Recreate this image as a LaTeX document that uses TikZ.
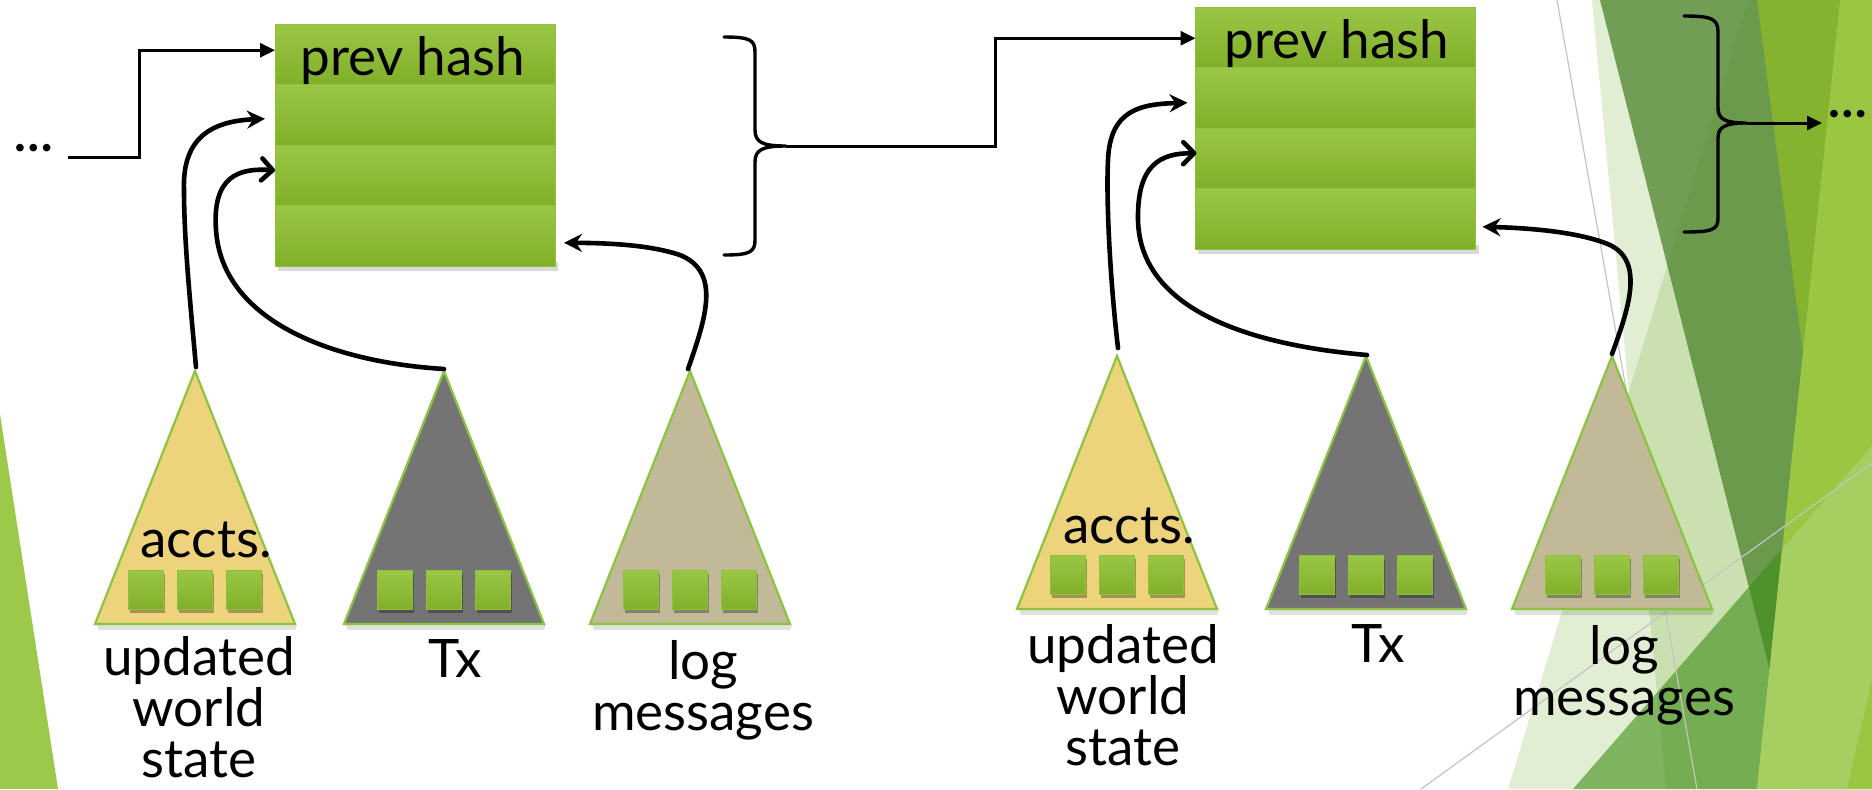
\documentclass[tikz,border=0pt]{standalone}
\usepackage{fontspec}
\setmainfont{Lato}
\usetikzlibrary{arrows.meta,calc,shadows}
\definecolor{rowtop}{HTML}{9AC646}
\definecolor{rowbot}{HTML}{82AF29}
\definecolor{rowedge}{HTML}{8EC23B}
\definecolor{treeedge}{HTML}{8BC53F}
\definecolor{acctfill}{HTML}{EDD47C}
\definecolor{txfill}{HTML}{747474}
\definecolor{logfill}{HTML}{C1B997}
\definecolor{facetpale}{RGB}{120,175,50}
\definecolor{facetdark}{RGB}{80,133,48}
\definecolor{facetbright}{HTML}{86B32F}
\definecolor{facetlime}{HTML}{9AC641}
\definecolor{facetmid}{RGB}{60,140,20}
\definecolor{facetlight}{HTML}{A7CE60}
\definecolor{sliver}{HTML}{9CC94A}
\definecolor{thinline}{HTML}{C4C4C4}
\newcommand{\bigtxt}{\fontsize{26.5}{25.5}\selectfont}
\newcommand{\mytree}[4]{%
  \fill[black,opacity=0.12] (#2-98,#3+1) -- (#2+102,#3+1) -- (#2+100,#3+6) -- (#2-96,#3+6) -- cycle;
  \filldraw[draw=treeedge, line width=1.1pt, fill=#4] (#2-100,#3) -- (#2,#3-253) -- (#2+100,#3) -- cycle;
  \coordinate (#1) at (#2,#3-253);
  \foreach \dx [count=\sqi] in {-49,0,49} {\node[leaf] (#1sq\sqi) at (#2+\dx,#3-34) {};}
}
\begin{document}
\begin{tikzpicture}[x=0.5pt,y=-0.5pt,
  row/.style={minimum width=140pt, minimum height=30.25pt, inner sep=0pt, outer sep=0pt, top color=rowtop, bottom color=rowbot, draw=rowedge, line width=0.5pt},
  leaf/.style={minimum width=17.5pt, minimum height=19.5pt, inner sep=0pt, outer sep=0pt, top color=rowtop, bottom color=rowbot, draw=rowedge, line width=0.6pt, drop shadow={shadow xshift=0.8pt, shadow yshift=-1.5pt, opacity=0.3, fill=black}},
  txt/.style={font=\bigtxt, inner sep=0pt, outer sep=0pt},
  lbl/.style={txt, align=center, anchor=north},
  dotsnode/.style={font=\fontsize{25}{25}\selectfont\bfseries, inner sep=0pt, anchor=base west},
  flow/.style={line width=2.3pt, line cap=round},
  stealthhead/.style={-{Stealth[length=9pt,width=9pt,inset=3pt]}},
  openhead/.style={-{Straight Barb[length=5.5pt,width=11pt,round]}},
  elbow/.style={line width=1.5pt, -{Triangle[length=7.5pt,width=7pt]}},
  bracestroke/.style={line width=1.7pt, line join=round, line cap=round}
]
\useasboundingbox (0,0) rectangle (1872,789);
\fill[white] (0,0) rectangle (1872,789);

% background facets
\fill[sliver] (0,414) -- (58,789) -- (0,789) -- cycle;
\fill[facetpale, opacity=0.21] (1592,0) -- (1872,0) -- (1872,789) -- (1666,789) -- cycle;
\fill[facetpale, opacity=0.21] (1748,0) -- (1872,0) -- (1872,789) -- (1508,789) -- cycle;
\fill[facetdark, opacity=0.77] (1600,0) -- (1872,0) -- (1872,789) -- (1800,789) -- cycle;
\fill[facetbright] (1757,0) -- (1840,0) -- (1803,352) -- cycle;
\fill[facetlime] (1840,0) -- (1872,0) -- (1872,789) -- (1757,789) -- cycle;
\fill[facetmid, opacity=0.6] (1573,789) -- (1782,549) -- (1757,789) -- cycle;
\fill[facetlight] (1782,549) -- (1872,446) -- (1872,679) -- (1847,789) -- (1757,789) -- cycle;
\draw[thinline, line width=0.6pt] (1557,0) -- (1697,789);
\draw[thinline, line width=0.6pt] (1421,789) -- (1872,463);

% block shadows
\fill[black, opacity=0.15] (278,262) rectangle (558,271);
\fill[black, opacity=0.15] (1198,245) rectangle (1479,254);

% block 1
\node[row] (b1r1) at (415,54.25) {};
\node[row] (b1r2) at (415,114.75) {};
\node[row] (b1r3) at (415,175.25) {};
\node[row] (b1r4) at (415,235.75) {};
\node[txt, anchor=base] (ph1) at (413,75) {prev hash};

% block 2
\node[row] (b2r1) at (1335.5,37.25) {};
\node[row] (b2r2) at (1335.5,97.75) {};
\node[row] (b2r3) at (1335.5,158.25) {};
\node[row] (b2r4) at (1335.5,218.75) {};
\node[txt, anchor=base] (ph2) at (1337,58) {prev hash};

% trees
\mytree{apYL}{195}{624}{acctfill}
\mytree{apTL}{444}{624}{txfill}
\mytree{apLL}{690}{624}{logfill}
\mytree{apYR}{1117}{609}{acctfill}
\mytree{apTR}{1366}{609}{txfill}
\mytree{apLR}{1612}{609}{logfill}

\node[txt, anchor=base] (acL) at (206,557) {accts.};
\node[txt, anchor=base] (acR) at (1129,543) {accts.};

\node[lbl] (labYL) at (199,636) {updated\\world\\state};
\node[lbl] (labTL) at (455,640) {Tx};
\node[lbl] (labLL) at (703,640) {log\\messages};
\node[lbl] (labYR) at (1123,624) {updated\\world\\state};
\node[lbl] (labTR) at (1378,625) {Tx};
\node[lbl] (labLR) at (1624,625) {log\\messages};

% ellipses
\node[dotsnode] (ellL) at (14,151) {…};
\node[dotsnode] (ellR) at (1828,117) {…};

% elbow into block 1
\coordinate (e1s) at (68,157);
\draw[elbow] (e1s) -- (139,157) |- ($(b1r1.west)+(0,-4)$);

% braces
\coordinate (br1tip) at (786,146);
\draw[bracestroke] (724,37) .. controls (750,37) and (755,40) .. (755,52) -- (755,130)
  .. controls (755,142) and (762,146) .. (br1tip)
  .. controls (762,146) and (755,150) .. (755,162) -- (755,240)
  .. controls (755,252) and (750,255) .. (724,255);
\draw[elbow] (br1tip) -- (995,146) |- ($(b2r1.west)+(0,1)$);

\coordinate (br2tip) at (1746,123);
\draw[bracestroke] (1684,16) .. controls (1712,16) and (1718,19) .. (1718,32) -- (1718,108)
  .. controls (1718,119) and (1725,123) .. (br2tip)
  .. controls (1725,123) and (1718,127) .. (1718,138) -- (1718,218)
  .. controls (1718,230) and (1712,232) .. (1684,232);
\draw[elbow] (br2tip) -- ($(ellR.base west)+(-6,6)$);

% curved connectors, block 1
\draw[flow, stealthhead] ($(apYL)+(1,-4)$) .. controls (190,300) and (184,240) .. (184,190)
  .. controls (182,135) and (215,121) .. ($(b1r2.west)+(-10,4)$);
\draw[flow, openhead] ($(apTL)+(0,-2)$) .. controls (330,362) and (222,320) .. (216,230)
  .. controls (212,175) and (240,168) .. ($(b1r3.west)+(0,-5)$);
\draw[flow, stealthhead] ($(apLL)+(-2,-2)$) .. controls (705,320) and (722,272) .. (680,255)
  .. controls (650,245) and (610,243) .. ($(b1r4.east)+(9,7)$);

% curved connectors, block 2
\draw[flow, stealthhead] ($(apYR)+(1,-8)$) .. controls (1110,280) and (1106,200) .. (1108,160)
  .. controls (1110,110) and (1140,104) .. ($(b2r2.west)+(-8,5)$);
\draw[flow, openhead] ($(apTR)+(1,-1)$) .. controls (1250,345) and (1140,310) .. (1138,220)
  .. controls (1137,165) and (1160,153) .. ($(b2r3.west)+(1,-5)$);
\draw[flow, stealthhead] ($(apLR)+(0,-2)$) .. controls (1628,310) and (1645,262) .. (1610,245)
  .. controls (1580,232) and (1530,228) .. ($(b2r4.east)+(7,8)$);
\end{tikzpicture}
\end{document}
